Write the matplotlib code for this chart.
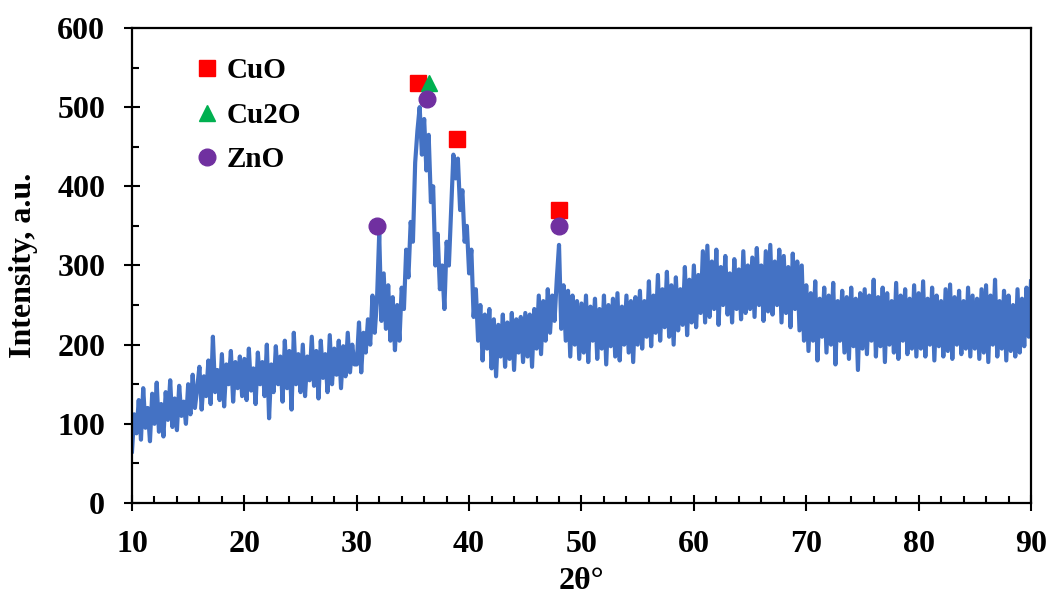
import numpy as np
import matplotlib
matplotlib.use('Agg')
import matplotlib.pyplot as plt
from matplotlib.ticker import MultipleLocator

plt.rcParams['font.family'] = ['Liberation Serif', 'DejaVu Serif']
plt.rcParams['font.weight'] = 'bold'

# 2theta grid of the scan (0.2 deg step, 10..90)
two_theta = np.linspace(10, 90, 401)

# intensity, 25 values per 5 degrees
intensity = [
    65, 112, 88, 130, 80, 145, 95, 120, 78, 138, 100, 152, 90, 125, 84, 140, 105, 155, 96, 132, 92, 148, 110, 128, 100,
    150, 112, 162, 120, 145, 172, 118, 160, 135, 180, 125, 210, 140, 168, 130, 188, 122, 175, 150, 192, 128, 178, 145, 185, 135,
    182, 130, 195, 142, 170, 125, 190, 150, 178, 135, 200, 107, 175, 140, 198, 150, 185, 128, 205, 145, 192, 118, 215, 150, 188,
    140, 200, 135, 185, 155, 210, 148, 192, 132, 205, 158, 188, 140, 212, 150, 195, 162, 205, 145, 198, 160, 215, 165, 200, 175,
    175, 228, 165, 215, 190, 232, 200, 262, 215, 255, 340, 230, 290, 220, 275, 205, 260, 193, 250, 205, 272, 245, 320, 285, 355,
    330, 430, 470, 500, 440, 485, 420, 465, 380, 400, 300, 340, 270, 300, 245, 330, 300, 370, 440, 410, 435, 370, 395, 330, 350,
    290, 320, 235, 270, 205, 250, 180, 238, 195, 245, 170, 232, 160, 225, 185, 238, 172, 228, 182, 240, 168, 232, 190, 235, 178,
    240, 185, 238, 172, 245, 195, 262, 188, 255, 205, 270, 215, 262, 230, 282, 326, 220, 275, 205, 268, 185, 262, 200, 255, 182,
    252, 190, 262, 178, 248, 205, 258, 182, 245, 195, 262, 175, 250, 198, 258, 185, 265, 180, 248, 200, 262, 190, 255, 178, 260,
    200, 268, 195, 255, 210, 280, 198, 262, 215, 288, 205, 270, 222, 292, 210, 275, 200, 285, 218, 270, 225, 298, 212, 282, 228,
    300, 222, 288, 240, 318, 228, 325, 235, 305, 245, 320, 225, 298, 250, 312, 238, 290, 228, 308, 245, 295, 232, 318, 240, 300,
    245, 310, 235, 322, 250, 300, 230, 318, 242, 326, 238, 305, 250, 320, 228, 312, 240, 298, 222, 315, 245, 305, 218, 300, 205,
    275, 192, 265, 205, 280, 180, 258, 210, 272, 190, 262, 200, 278, 175, 255, 205, 268, 190, 260, 182, 272, 198, 258, 168, 265,
    195, 270, 188, 262, 205, 282, 185, 260, 198, 272, 178, 265, 200, 255, 190, 278, 182, 262, 205, 270, 188, 258, 195, 275, 185,
    265, 195, 280, 185, 258, 200, 272, 180, 262, 198, 255, 185, 270, 192, 276, 182, 260, 200, 268, 188, 255, 195, 272, 185, 262,
    195, 258, 182, 270, 190, 275, 178, 262, 200, 282, 185, 255, 195, 268, 180, 262, 192, 250, 185, 270, 190, 258, 198, 272, 210,
    280,
]

# phase markers
cuo_x = [35.45, 38.9, 48.0]
cuo_y = [530, 460, 370]
cu2o_x = [36.4]
cu2o_y = [530]
zno_x = [31.8, 36.25, 48.0]
zno_y = [350, 510, 350]

fig = plt.figure(figsize=(10.5, 5.99), dpi=100)
ax = fig.add_axes([0.1257, 0.1603, 0.8562, 0.793])

ax.plot(two_theta, intensity, color='#4472C4', lw=3, solid_joinstyle='round')
ax.plot(cuo_x, cuo_y, 's', color='#FF0000', ms=11.5, ls='none', label='CuO')
ax.plot(cu2o_x, cu2o_y, '^', color='#00B050', ms=12, ls='none', label='Cu2O')
ax.plot(zno_x, zno_y, 'o', color='#7030A0', ms=12, ls='none', label='ZnO')

ax.set_xlim(10, 90)
ax.set_ylim(0, 600)
ax.xaxis.set_major_locator(MultipleLocator(10))
ax.xaxis.set_minor_locator(MultipleLocator(2))
ax.yaxis.set_major_locator(MultipleLocator(100))
ax.yaxis.set_minor_locator(MultipleLocator(50))
ax.tick_params(which='major', direction='inout', length=11.5, width=1.5, labelsize=23, pad=13.5)
ax.tick_params(which='minor', direction='in', length=5, width=1.5)
for s in ax.spines.values():
    s.set_linewidth(1.6)

ax.set_xlabel('2θ°', fontsize=23, fontweight='bold', labelpad=6)
ax.set_ylabel('Intensity, a.u.', fontsize=23, fontweight='bold', labelpad=14)

ax.legend(loc='upper left', bbox_to_anchor=(0.058, 0.963), frameon=False,
          prop={'size': 21, 'weight': 'bold'}, handlelength=0.8, handletextpad=0.25,
          labelspacing=0.6, borderaxespad=0)

plt.savefig('out.png', dpi=100)
